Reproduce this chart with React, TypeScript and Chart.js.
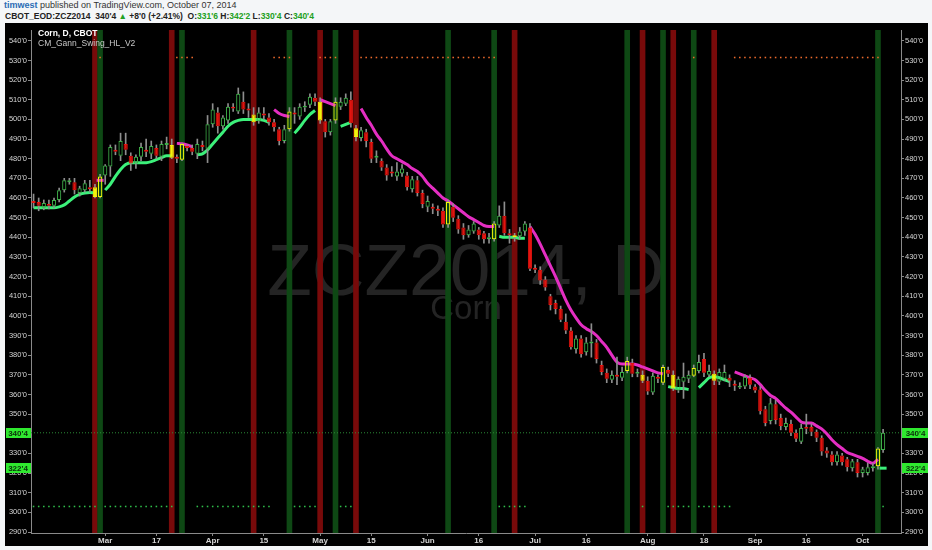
import React, { useEffect, useRef } from "react";
import { Chart, registerables } from "chart.js";
Chart.register(...registerables);

const _ = null;

// ---- Candles (Feb 10 2014 .. Oct 07 2014, one per trading day) ----
const opens = [
  458.5,458,455,457,456,459,464,468,468,462.5,
  464,465.5,465.5,460.5,471.5,476,484.5,481.5,487.5,481.5,
  477.5,481,484.5,482.5,485.5,481,487,487,481,479.5,
  486.5,485.5,482.5,487,485,497.5,503.5,496.5,499.5,506.5,
  504,509,505.5,502.5,499,503,501,498.5,495,489,
  495,503.5,501.5,506,507.5,511,509,499,493.5,499.5,
  506.5,508,510,495.5,490.5,493.5,488.5,480.5,479,475.5,
  473.5,471,472.5,471.5,464.5,469,462.5,455.5,455.5,454.5,
  453.5,446.5,455.5,449.5,445,441,443,444,442,439,
  439,446,451,442,441,440.5,443,445,424.5,423.5,
  418.5,410,406.5,403.5,397,392.5,383,388.5,381.5,386,
  386.5,375,371,367.5,370,368.5,372,376,370.5,370,
  367,361,369,366,372.5,370,362,366.5,368,369.5,
  372,378,370,370.5,366.5,368,368.5,365.5,363.5,364,
  368.5,364,362.5,352.5,346.5,355,348,343.5,345,340.5,
  336,343.5,343.5,341,338,331.5,329.5,325.5,329,327,
  322.5,325.5,320,320,322.5,323.5,331.75,
];
const highs = [
  462,460,459,459,460,465,470,470,470,466,
  469,469,467,472,477,487,487,493,493,483,
  482,488,490,489,487,489,491,490,482,488,
  487,487,490,489,502,508,506,502,508,508,
  516,514,508,506,506,506,503,500,496,497,
  506,506,508,509,513,513,511,500,500,511,
  511,513,514,497,496,495,490,484,480,477,
  476,478,477,473,471,471,464,461,457,456,
  455,459,457,451,447,446,448,445,443,442,
  448,456,458,444,442,445,448,447,426,425,
  420,411,408,405,401,394,390,390,389,396,
  388,377,373,372,379,374,379,378,373,372,
  369,371,370,375,374,372,369,376,372,375,
  380,381,375,372,373,375,370,367,366,370,
  370,365,364,354,358,357,350,348,347,342,
  345,350,345,342,339,333,331,331,330,328,
  327,327,323,325,325,333,342.25,
];
const lows = [
  455,453.5,454,454.5,455,458,463,467,462,461,
  463,463,460,460,467,471,482,479,482,474,
  475,479,481,480,480,479,485,480,478,479,
  484,482,480,484,478,496,493,495,498,504,
  503,503,501,497,498,500,497,494,487,488,
  494,498,500,504,506,507,498,491,492,498,
  505,507,496,489,489,486,478,478,474,469,
  471,469,471,464,463,461,455,453,452,451,
  445,445,448,442,439,440,442,439,437,437,
  438,445,441,437,438,439,441,423,422,416,
  413,403,401,397,391,383,381,379,380,379,
  376,370,366,366,365,367,371,369,369,366,
  360,360,366,365,369,362,361,358,366,369,
  371,369,369,365,365,367,364,362,363,363,
  363,361,350,344,345,345,342,342,339,336,
  335,340,339,336,329,328,324,324,324,321,
  321,318,318,319,321,322,330.5,
];
const closes = [
  457.5,456,457.5,456,459,464,469,469,464,465,
  467.5,464.5,460.5,471,476.5,486,483.5,489,484.5,477.5,
  481,486,483.5,486.5,481.5,487.5,488,480.5,480,487.5,
  485.5,483.5,487.5,486,497.5,505,496.5,501,506.5,505.5,
  513,505,504.5,498.5,503.5,502,498.5,496,489,495,
  504,502.5,506.5,507,511.5,509,499.5,493.5,499,509,
  509,511,498,491,494.5,489,480,481.5,475.5,471.5,
  472.5,473.5,475,465.5,469.5,462.5,457,458.5,454.5,453.5,
  446.5,458,450,444,441,444,447,441,439,440,
  447,451,442,441,440,443,447,424,423.5,418,
  414.5,405.5,403.5,398,392.5,384,388.5,380.5,386.5,387,
  378,371.5,368,370,369,371.5,377,370.5,371.5,367,
  361.5,369.5,368,374,370.5,363,368,369,370,373.5,
  376.5,371,372,367,371.5,371.5,367,364.5,364.5,369,
  365,362,351.5,345.5,355.5,347,344,345.5,340.5,337.5,
  343,342.5,341,338,331,330,325.5,329.5,325.5,323,
  326,320,322,323,323.5,332.5,340.5,
];

// ---- Gann swing indicator lines ----
const greenSwing = [
  455,455,455,455,455,455.5,456.5,458.5,460.5,461.8,
  462.5,462.8,462.5,_,464,467,471,474.5,477,478,
  478,478,478,478.5,479.5,480.5,481.5,481.5,_,_,
  _,_,482,482.5,484.5,487.5,490.5,493.5,496.5,498.5,
  499.5,500,500,500,500,499.5,498.5,_,_,_,
  _,493,496,499.5,502.5,504.5,_,_,_,_,
  496.5,497.5,498.5,_,_,_,_,_,_,_,
  _,_,_,_,_,_,_,_,_,_,
  _,_,_,_,_,_,_,_,_,_,
  _,440.5,440,440,440,439.5,439.5,_,_,_,
  _,_,_,_,_,_,_,_,_,_,
  _,_,_,_,_,_,_,_,_,_,
  _,_,_,_,364,363.5,363,363,362.5,_,
  363.5,366,368.5,369,368.5,367.5,366.5,_,_,_,
  _,_,_,_,_,_,_,_,_,_,
  _,_,_,_,_,_,_,_,_,_,
  _,_,_,_,_,_,322.5,
];
const pinkSwing = [
  _,_,_,_,_,_,_,_,_,_,
  _,_,_,469,_,_,_,_,_,_,
  _,_,_,_,_,_,_,_,487.8,487.6,
  487,486,_,_,_,_,_,_,_,_,
  _,_,_,_,_,_,_,505,503,502,
  501.5,_,_,_,_,_,510,509,508,507,
  _,_,_,_,505.5,501,497,492.5,489,485,
  481.5,480,478.5,477,475,473.5,471,467.5,465,462.5,
  460,458.5,456.5,454.5,452.5,450.5,449,447.5,446,445.5,
  445.5,_,_,_,_,_,_,445.5,441.5,436.5,
  431,425.5,420,414,408,403,399,395.5,393.5,392,
  390,387,384,380,376.5,375.5,375.5,375.5,375,374,
  373,372,371,370.5,_,_,_,_,_,_,
  _,_,_,_,_,_,_,371.5,370.5,369.5,
  368.5,367.5,365,362,359.5,358,355.5,353,351,348.5,
  346,345.5,345.5,344,342.5,340,337,334.5,332.5,330.5,
  329.5,328.5,327.5,326,325,327,_,
];

// ---- Signal bars (vertical bands) ----
const redBandIdx = [12, 27, 43, 56, 63, 94, 119, 125, 133];
const greenBandIdx = [13, 29, 50, 59, 81, 90, 116, 123, 129, 165];

// ---- Dot rows ----
const topDotLevel = 531.5;
const bottomDotLevel = 303;
const topDotIdx = [13,28,29,30,31,47,48,49,50,56,57,58,59,64,65,66,67,68,69,70,71,72,73,74,75,76,77,78,79,80,81,82,83,84,85,86,87,88,89,90,129,137,138,139,140,141,142,143,144,145,146,147,148,149,150,151,152,153,154,155,156,157,158,159,160,161,162,163,164,165];
const bottomDotIdx = [0,1,2,3,4,5,6,7,8,9,10,11,12,14,15,16,17,18,19,20,21,22,23,24,25,26,27,32,33,34,35,36,37,38,39,40,41,42,43,44,45,46,51,52,53,54,55,60,61,62,91,92,93,94,95,96,119,124,125,126,127,128,130,131,132,133,134,135,136,166];

// ---- Axes ----
const xTickIdx = [14, 24, 35, 45, 56, 66, 77, 87, 98, 108, 120, 131, 141, 151, 162];
const xTickLabels = ["Mar", "17", "Apr", "15", "May", "15", "Jun", "16", "Jul", "16", "Aug", "18", "Sep", "16", "Oct"];
const yTicks = [290, 300, 310, 320, 330, 340, 350, 360, 370, 380, 390, 400, 410, 420, 430, 440, 450, 460, 470, 480, 490, 500, 510, 520, 530, 540];
const Y_MIN = 289.5;
const Y_MAX = 545.5;
const X_MIN = -0.5;
const X_MAX = 169.5;
const swingLevel = 322.5;

const FONT = "'Liberation Sans', Arial, sans-serif";
const UP_BORDER = "#3fb04a";
const DOWN_FILL = "#e3140f";
const YELLOW = "#f2f20c";
const WICK = "#8e8e8e";
const RED_BAND = "#780a0a";
const GREEN_BAND = "#0e4814";
const GREEN_LINE = "#3cf07a";
const PINK_LINE = "#e42ec2";
const BADGE = "#2fe82f";
const AXIS = "#8a8a8a";
const LABEL = "#d4d4d4";

function fmtPrice(v: number): string {
  const whole = Math.floor(v + 1e-9);
  const eighths = Math.round((v - whole) * 8);
  return `${whole}'${eighths}`;
}

function isolated(arr: (number | null)[], i: number): boolean {
  return arr[i] != null && arr[i - 1] == null && arr[i + 1] == null;
}

export default function App() {
  const ref = useRef<HTMLCanvasElement>(null);
  const last = closes.length - 1;
  const lastClose = closes[last];
  const change = lastClose - closes[last - 1];
  const changePct = (change / closes[last - 1]) * 100;

  useEffect(() => {
    const redSet = new Set(redBandIdx);
    const greenSet = new Set(greenBandIdx);
    const idx = opens.map((_v, i) => i);
    const up = idx.map((i) => closes[i] >= opens[i]);
    const fills = idx.map((i) => (up[i] ? "rgba(0,0,0,0)" : redSet.has(i) ? YELLOW : DOWN_FILL));
    const borders = idx.map((i) => (up[i] ? (greenSet.has(i) ? YELLOW : UP_BORDER) : redSet.has(i) ? YELLOW : DOWN_FILL));

    const wmPlugin = {
      id: "wm",
      beforeDatasetsDraw(chart: any) {
        const { ctx, chartArea: a } = chart;
        ctx.save();
        ctx.fillStyle = "#242424";
        ctx.textAlign = "center";
        ctx.textBaseline = "alphabetic";
        const cx = (a.left + a.right) / 2;
        const h = a.bottom - a.top;
        ctx.font = `73px ${FONT}`;
        ctx.fillText("ZCZ2014, D", cx, a.top + h * 0.526);
        ctx.font = `33px ${FONT}`;
        ctx.fillText("Corn", cx, a.top + h * 0.575);
        ctx.restore();
      },
    };

    const badgePlugin = {
      id: "badges",
      afterDraw(chart: any) {
        const { ctx, chartArea: a, width } = chart;
        const ys = chart.scales.y;
        const items = [
          { v: lastClose, t: fmtPrice(lastClose) },
          { v: swingLevel, t: fmtPrice(swingLevel) },
        ];
        ctx.save();
        ctx.font = `bold 8px ${FONT}`;
        ctx.textBaseline = "middle";
        ctx.textAlign = "center";
        for (const it of items) {
          const y = Math.round(ys.getPixelForValue(it.v));
          ctx.fillStyle = BADGE;
          ctx.fillRect(1, y - 5, a.left - 1, 10);
          ctx.fillRect(a.right + 1, y - 5, width - a.right - 1, 10);
          ctx.fillStyle = "#0b2e0b";
          ctx.fillText(it.t, a.left / 2, y + 0.5);
          ctx.fillText(it.t, (a.right + width) / 2 + 1, y + 0.5);
        }
        ctx.restore();
      },
    };

    const yAxisBase = (position: "left" | "right") => ({
      position,
      min: Y_MIN,
      max: Y_MAX,
      afterBuildTicks: (s: any) => {
        s.ticks = yTicks.map((v) => ({ value: v }));
      },
      afterFit: (s: any) => {
        s.width = position === "left" ? 26 : 27;
      },
      ticks: {
        callback: (v: any) => fmtPrice(Number(v)),
        color: LABEL,
        font: { size: 7.5, family: FONT },
        padding: 1,
        autoSkip: false,
      },
      grid: { drawOnChartArea: false, drawTicks: true, tickLength: 3, color: AXIS },
      border: { display: true, color: AXIS },
    });

    const chart = new Chart(ref.current as HTMLCanvasElement, {
      type: "bar",
      data: {
        datasets: [
          {
            type: "bar",
            data: redBandIdx.map((i) => ({ x: i, y: [Y_MIN, Y_MAX] })),
            backgroundColor: RED_BAND,
            borderWidth: 0,
            grouped: false,
            barPercentage: 1.1,
            categoryPercentage: 1,
            order: 20,
          } as any,
          {
            type: "bar",
            data: greenBandIdx.map((i) => ({ x: i, y: [Y_MIN, Y_MAX] })),
            backgroundColor: GREEN_BAND,
            borderWidth: 0,
            grouped: false,
            barPercentage: 1.1,
            categoryPercentage: 1,
            order: 19,
          } as any,
          {
            type: "line",
            data: [
              { x: X_MIN, y: lastClose },
              { x: X_MAX, y: lastClose },
            ],
            borderColor: "#2b8a35",
            borderWidth: 1,
            borderDash: [1, 2],
            pointRadius: 0,
            order: 18,
          } as any,
          {
            type: "line",
            data: topDotIdx.map((i) => ({ x: i, y: topDotLevel })),
            showLine: false,
            pointStyle: "rect",
            pointRadius: 1.1,
            pointBorderWidth: 0,
            pointBackgroundColor: "#ec6a2c",
            order: 17,
          } as any,
          {
            type: "line",
            data: bottomDotIdx.map((i) => ({ x: i, y: bottomDotLevel })),
            showLine: false,
            pointStyle: "rect",
            pointRadius: 1.1,
            pointBorderWidth: 0,
            pointBackgroundColor: "#2fbf4a",
            order: 16,
          } as any,
          {
            type: "line",
            data: greenSwing.map((v, i) => ({ x: i, y: v })),
            borderColor: GREEN_LINE,
            borderWidth: 3,
            spanGaps: false,
            cubicInterpolationMode: "monotone",
            pointStyle: "line",
            pointRadius: (c: any) => (isolated(greenSwing, c.dataIndex) ? 3.5 : 0),
            pointBorderWidth: 3,
            pointBorderColor: GREEN_LINE,
            order: 10,
          } as any,
          {
            type: "line",
            data: pinkSwing.map((v, i) => ({ x: i, y: v })),
            borderColor: PINK_LINE,
            borderWidth: 3,
            spanGaps: false,
            cubicInterpolationMode: "monotone",
            pointStyle: "line",
            pointRadius: (c: any) => (isolated(pinkSwing, c.dataIndex) ? 3.5 : 0),
            pointBorderWidth: 3,
            pointBorderColor: PINK_LINE,
            order: 9,
          } as any,
          {
            type: "bar",
            data: idx.map((i) => ({ x: i, y: [Math.max(opens[i], closes[i]), highs[i]] })),
            backgroundColor: WICK,
            borderWidth: 0,
            grouped: false,
            maxBarThickness: 1,
            barPercentage: 1,
            categoryPercentage: 1,
            order: 5,
          } as any,
          {
            type: "bar",
            data: idx.map((i) => ({ x: i, y: [lows[i], Math.min(opens[i], closes[i])] })),
            backgroundColor: WICK,
            borderWidth: 0,
            grouped: false,
            maxBarThickness: 1,
            barPercentage: 1,
            categoryPercentage: 1,
            order: 4,
          } as any,
          {
            type: "bar",
            data: idx.map((i) => ({ x: i, y: [opens[i], closes[i]] })),
            backgroundColor: fills,
            borderColor: borders,
            borderWidth: 1,
            borderSkipped: false,
            grouped: false,
            barPercentage: 0.82,
            categoryPercentage: 1,
            order: 1,
          } as any,
        ],
      },
      options: {
        responsive: false,
        maintainAspectRatio: false,
        animation: false,
        events: [],
        layout: { padding: { top: 2, left: 0, right: 0, bottom: 0 } },
        plugins: { legend: { display: false }, tooltip: { enabled: false } },
        scales: {
          x: {
            type: "linear",
            min: X_MIN,
            max: X_MAX,
            offset: false,
            afterBuildTicks: (s: any) => {
              s.ticks = xTickIdx.map((v) => ({ value: v }));
            },
            afterFit: (s: any) => {
              s.height = 13;
            },
            ticks: {
              callback: (_v: any, i: number) => xTickLabels[i] ?? "",
              autoSkip: false,
              maxRotation: 0,
              color: LABEL,
              font: { size: 8, weight: "bold", family: FONT },
              padding: 0,
            },
            grid: { offset: false, drawOnChartArea: false, drawTicks: true, tickLength: 3, color: AXIS },
            border: { display: true, color: AXIS },
          } as any,
          y: yAxisBase("left") as any,
          y2: yAxisBase("right") as any,
        },
      },
      plugins: [wmPlugin, badgePlugin],
    } as any);
    return () => chart.destroy();
  }, []);

  const green = { color: "#22a022" };
  return (
    <div
      style={{
        position: "absolute",
        left: 0,
        top: 0,
        width: 932,
        height: 550,
        background: "#f4f6f8",
        fontFamily: FONT,
        overflow: "hidden",
      }}
    >
      <div style={{ position: "absolute", left: 4, top: 0, fontSize: 9, color: "#333", whiteSpace: "nowrap" }}>
        <span style={{ color: "#2b6cb5", fontWeight: "bold" }}>timwest</span> published on TradingView.com, October 07, 2014
      </div>
      <div
        style={{
          position: "absolute",
          left: 5,
          top: 11,
          fontSize: 8.5,
          fontWeight: "bold",
          color: "#222",
          whiteSpace: "nowrap",
        }}
      >
        CBOT_EOD:ZCZ2014&nbsp;&nbsp;{fmtPrice(lastClose)} <span style={green}>▲</span> +{fmtPrice(change)} (+
        {changePct.toFixed(2)}%)&nbsp; O:<span style={green}>{fmtPrice(opens[last])}</span> H:
        <span style={green}>{fmtPrice(highs[last])}</span> L:<span style={green}>{fmtPrice(lows[last])}</span> C:
        <span style={green}>{fmtPrice(closes[last])}</span>
      </div>
      <div style={{ position: "absolute", left: 5, top: 23, width: 923, height: 523, background: "#000" }}>
        <canvas ref={ref} width={923} height={523} style={{ display: "block", width: 923, height: 523 }} />
        <div
          style={{
            position: "absolute",
            left: 33,
            top: 5,
            fontSize: 8.5,
            lineHeight: "10px",
            color: "#fff",
            whiteSpace: "nowrap",
          }}
        >
          <div style={{ fontWeight: "bold" }}>Corn, D, CBOT</div>
          <div style={{ color: "#c8c8c8" }}>CM_Gann_Swing_HL_V2</div>
        </div>
      </div>
    </div>
  );
}
